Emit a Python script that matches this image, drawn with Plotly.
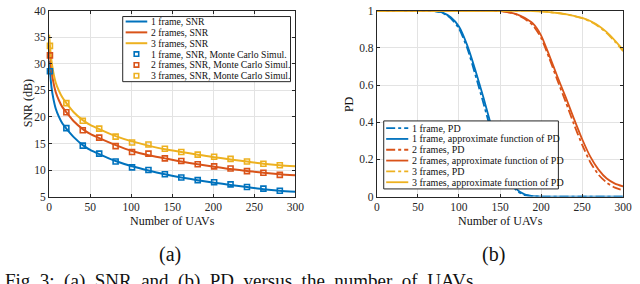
import plotly.graph_objects as go

# ---------------- data ----------------
snr_line_x = [0, 1, 3, 5, 8, 12, 16, 21, 30, 41, 50, 61, 81, 101, 121, 141, 161, 181, 201, 221, 241, 261, 281, 300]
snr1_line = [30.6, 28.6, 25.5, 23.6, 21.6, 20.0, 18.8, 17.8, 16.2, 14.7, 13.8, 13.0, 11.7, 10.7, 9.9, 9.2, 8.6, 8.1, 7.6, 7.2, 6.8, 6.4, 6.1, 5.9]
snr2_line = [33.6, 31.6, 28.6, 26.7, 24.7, 23.1, 21.9, 20.9, 19.2, 17.7, 16.8, 16.0, 14.7, 13.6, 12.8, 12.2, 11.6, 11.1, 10.6, 10.2, 9.8, 9.5, 9.2, 9.0]
snr3_line = [35.5, 33.4, 30.4, 28.5, 26.5, 24.9, 23.7, 22.6, 20.9, 19.4, 18.5, 17.7, 16.4, 15.4, 14.6, 13.9, 13.4, 12.9, 12.4, 12.0, 11.6, 11.2, 10.9, 10.7]

mc_x = [1, 21, 41, 61, 81, 101, 121, 141, 161, 181, 201, 221, 241, 261, 281]
mc1 = [28.6, 17.9, 14.6, 13.1, 11.6, 10.5, 10.0, 9.2, 8.6, 8.1, 7.7, 7.3, 6.8, 6.5, 6.1]
mc2 = [31.6, 20.9, 17.5, 16.1, 14.5, 13.4, 13.1, 12.2, 11.7, 11.1, 10.7, 10.3, 9.8, 9.5, 9.1]
mc3 = [33.4, 22.6, 19.3, 17.8, 16.3, 15.2, 14.8, 14.0, 13.4, 12.9, 12.5, 12.1, 11.6, 11.2, 10.9]

pd_x = [0, 50, 60, 70, 80, 90, 100, 110, 120, 130, 140, 150, 160, 170, 180, 190, 200,
        210, 220, 230, 240, 250, 260, 270, 280, 290, 300]
pd1 = [1, 1, 1, 0.998, 0.988, 0.96, 0.905, 0.80, 0.655, 0.50, 0.34, 0.20, 0.095, 0.033, 0.008, 0.002, 0,
       0, 0, 0, 0, 0, 0, 0, 0, 0, 0]
ap1 = [1, 1, 1, 0.998, 0.99, 0.965, 0.915, 0.815, 0.68, 0.53, 0.37, 0.225, 0.11, 0.04, 0.012, 0.003, 0,
       0, 0, 0, 0, 0, 0, 0, 0, 0, 0]
pd2 = [1, 1, 1, 1, 1, 1, 1, 1, 1, 1, 1, 0.998, 0.992, 0.98, 0.957, 0.922, 0.855,
       0.745, 0.625, 0.51, 0.39, 0.28, 0.185, 0.118, 0.075, 0.048, 0.033]
ap2 = [1, 1, 1, 1, 1, 1, 1, 1, 1, 1, 1, 0.998, 0.993, 0.982, 0.962, 0.932, 0.868,
       0.76, 0.645, 0.535, 0.42, 0.31, 0.215, 0.145, 0.097, 0.07, 0.055]
pd3 = [1, 1, 1, 1, 1, 1, 1, 1, 1, 1, 1, 1, 1, 1, 1, 0.999, 0.997,
       0.993, 0.988, 0.981, 0.972, 0.96, 0.942, 0.916, 0.88, 0.834, 0.783]
ap3 = [1, 1, 1, 1, 1, 1, 1, 1, 1, 1, 1, 1, 1, 1, 1, 0.999, 0.997,
       0.993, 0.988, 0.982, 0.973, 0.962, 0.945, 0.92, 0.885, 0.84, 0.79]

left_legend = ["1 frame, SNR", "2 frames, SNR", "3 frames, SNR",
               "1 frame, SNR, Monte Carlo Simul.", "2 frames, SNR, Monte Carlo Simul.",
               "3 frames, SNR, Monte Carlo Simul."]
right_legend = ["1 frame, PD", "1 frame, approximate function of PD",
                "2 frames, PD", "2 frames, approximate function of PD",
                "3 frames, PD", "3 frames, approximate function of PD"]

C = ["#0072BD", "#D95319", "#EDB120"]
FONT = "Times New Roman, Liberation Serif, serif"
AX = "#262626"

W, H = 640, 284
def fx(p):
    return p / W
def fy(p):
    return 1 - p / H

fig = go.Figure()

# ---- left: SNR ----
for ys, c, name in zip([snr1_line, snr2_line, snr3_line], C, left_legend[:3]):
    fig.add_trace(go.Scatter(x=snr_line_x, y=ys, mode="lines", name=name,
                             line=dict(color=c, width=2, shape="spline", smoothing=0.6),
                             xaxis="x", yaxis="y", showlegend=False))
for ys, c, name in zip([mc1, mc2, mc3], C, left_legend[3:]):
    fig.add_trace(go.Scatter(x=mc_x, y=ys, mode="markers", name=name,
                             marker=dict(symbol="square-open", size=5, color=c,
                                         line=dict(width=1.6, color=c)),
                             cliponaxis=False, xaxis="x", yaxis="y", showlegend=False))

# ---- right: PD ----
for (pd, ap), c, i in zip([(pd1, ap1), (pd2, ap2), (pd3, ap3)], C, range(3)):
    fig.add_trace(go.Scatter(x=pd_x, y=pd, mode="lines", name=right_legend[2 * i],
                             line=dict(color=c, width=1.8, dash="dashdot", shape="spline", smoothing=0.6),
                             xaxis="x2", yaxis="y2", showlegend=False))
    fig.add_trace(go.Scatter(x=pd_x, y=ap, mode="lines", name=right_legend[2 * i + 1],
                             line=dict(color=c, width=1.8, shape="spline", smoothing=0.6),
                             xaxis="x2", yaxis="y2", showlegend=False))

axis_common = dict(showline=True, linecolor=AX, linewidth=1, mirror="ticks",
                   ticks="inside", ticklen=3, tickcolor=AX, showgrid=True,
                   gridcolor="#e3e3e3", gridwidth=1, zeroline=False,
                   ticklabeloverflow="allow",
                   tickfont=dict(family=FONT, size=11.5, color=AX))

ydom = [fy(199), fy(5)]
fig.update_layout(
    width=W, height=H, margin=dict(l=0, r=0, t=0, b=0),
    paper_bgcolor="white", plot_bgcolor="white",
    font=dict(family=FONT, color=AX),
    xaxis=dict(domain=[fx(47), fx(298)], range=[0, 300], dtick=50, anchor="y", **axis_common),
    yaxis=dict(domain=ydom, range=[5, 40], dtick=5, anchor="x", **axis_common),
    xaxis2=dict(domain=[fx(381), fx(632)], range=[0, 300], dtick=50, anchor="y2", **axis_common),
    yaxis2=dict(domain=ydom, range=[0, 1], dtick=0.2, anchor="x2", **axis_common),
)

shapes = []
ann = []

def text(x, y, s, size=12, anchor="center", angle=0, yanchor="middle"):
    ann.append(dict(x=fx(x), y=fy(y), xref="paper", yref="paper", text=s, showarrow=False,
                    xanchor=anchor, yanchor=yanchor, textangle=angle,
                    font=dict(family=FONT, size=size, color="#111")))

# axis titles
text(25, 102, "SNR (dB)", 12, angle=-90)
text(352, 102, "PD", 12, angle=-90)
text(172.5, 224.5, "Number of UAVs", 12)
text(506.5, 224.5, "Number of UAVs", 12)
text(170, 259, "(a)", 20)
text(500, 259, "(b)", 20)
text(0, 274, "Fig.\u00a03:\u00a0 (a)\u00a0 SNR\u00a0 and\u00a0 (b)\u00a0 PD\u00a0 versus\u00a0 the\u00a0 number\u00a0 of\u00a0 UAVs",
     19, anchor="left", yanchor="top")

# left legend (manual, compact like the original)
shapes.append(dict(type="rect", xref="paper", yref="paper", x0=fx(122), x1=fx(293), y0=fy(79), y1=fy(11),
                   line=dict(color=AX, width=1), fillcolor="white", layer="above"))
for i, name in enumerate(left_legend):
    yy = 16.2 + i * 11.33
    c = C[i % 3]
    if i < 3:
        shapes.append(dict(type="line", xref="paper", yref="paper", x0=fx(125), x1=fx(147), y0=fy(yy), y1=fy(yy),
                           line=dict(color=c, width=2), layer="above"))
    else:
        shapes.append(dict(type="rect", xref="paper", yref="paper", x0=fx(133.7), x1=fx(138.3),
                           y0=fy(yy + 2.3), y1=fy(yy - 2.3), line=dict(color=c, width=1.6), layer="above"))
    text(149, yy, name, 9.7, anchor="left")

# right legend
shapes.append(dict(type="rect", xref="paper", yref="paper", x0=fx(388), x1=fx(566), y0=fy(191), y1=fy(120),
                   line=dict(color=AX, width=1), fillcolor="white", layer="above"))
for i, name in enumerate(right_legend):
    yy = 127.5 + i * 11.3
    c = C[i // 2]
    shapes.append(dict(type="line", xref="paper", yref="paper", x0=fx(390.5), x1=fx(413), y0=fy(yy), y1=fy(yy),
                       line=dict(color=c, width=1.8, dash="dashdot" if i % 2 == 0 else "solid"), layer="above"))
    text(415, yy, name, 10, anchor="left")

fig.update_layout(shapes=shapes, annotations=ann)
fig.write_html("out.html", config={"displayModeBar": False},
               post_script="document.body.style.margin='0px';document.body.style.overflow='hidden';")
